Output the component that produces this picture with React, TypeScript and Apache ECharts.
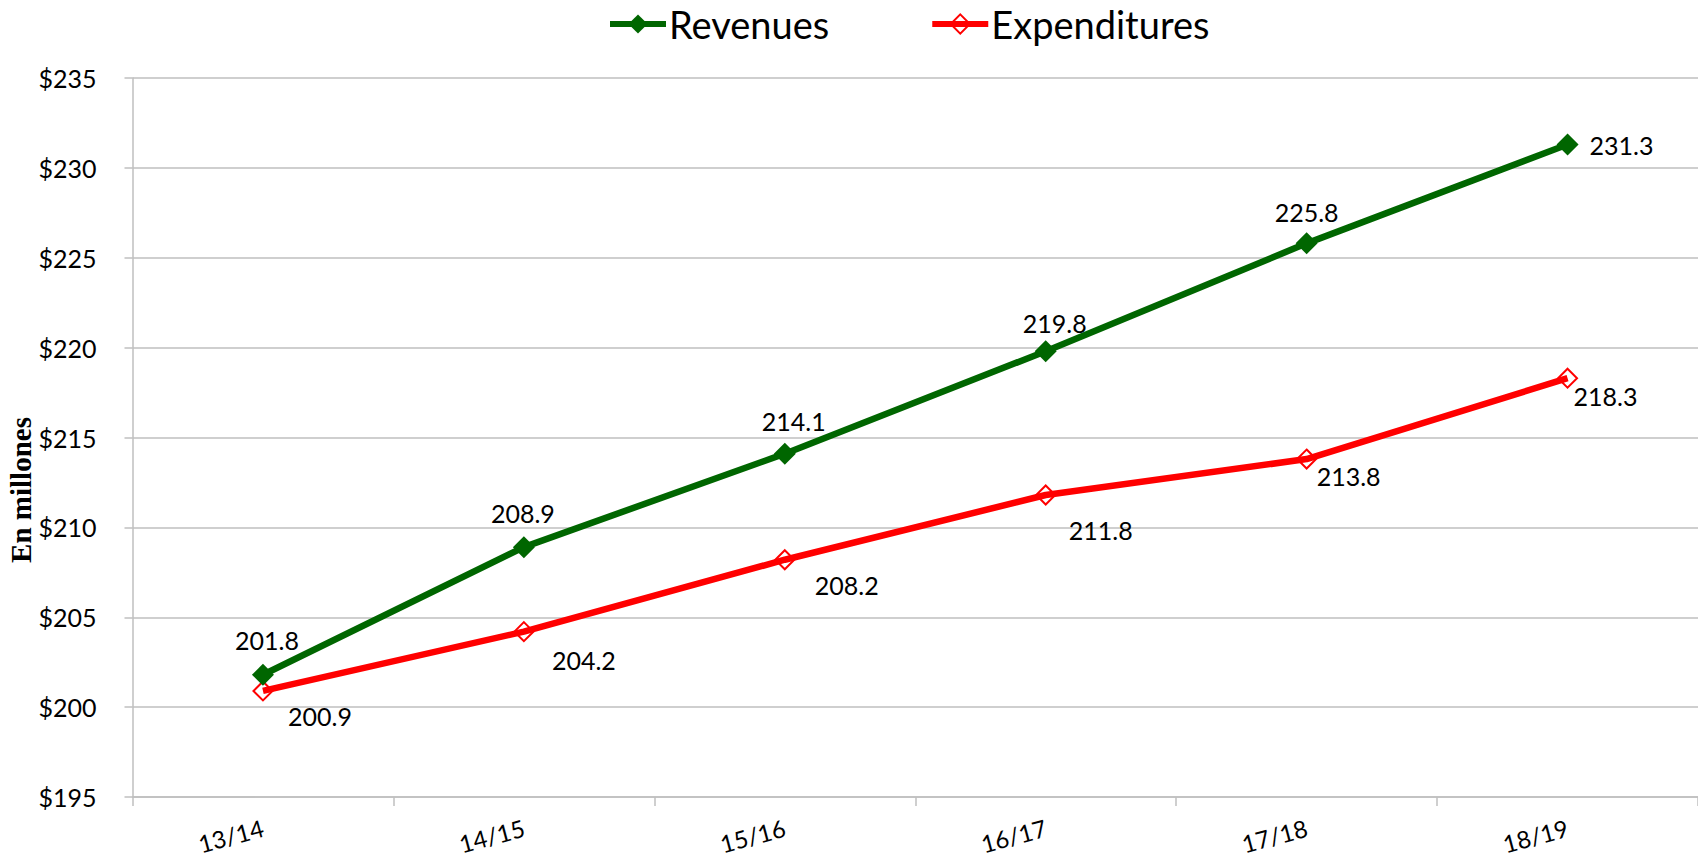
import React, { useEffect, useRef } from "react";
import * as echarts from "echarts";

const categories = ["13/14", "14/15", "15/16", "16/17", "17/18", "18/19"];
const revenues = [201.8, 208.9, 214.1, 219.8, 225.8, 231.3];
const expenditures = [200.9, 204.2, 208.2, 211.8, 213.8, 218.3];
const yMin = 195;
const yMax = 235;
const yStep = 5;

// label offsets (style only) relative to each point
const revLabelOffsets = [[4, -35], [-1, -34], [9, -33], [9, -28], [0, -31], [54, 0]];
const expLabelOffsets = [[57, 25], [60, 28], [62, 25], [55, 35], [42, 17], [38, 18]];

const GREEN = "#006600";
const RED = "#FF0000";
const GRID = "#BFBFBF";
const FONT = "Lato";

export default function App() {
  const ref = useRef<HTMLDivElement>(null);
  useEffect(() => {
    document.body.style.margin = "0";
    const chart = echarts.init(ref.current!, null, { renderer: "svg" });
    const labelStyle = { fontFamily: FONT, fontSize: 25, color: "#000" };
    chart.setOption({
      animation: false,
      backgroundColor: "#fff",
      legend: {
        left: 602,
        top: 0,
        itemWidth: 56,
        itemHeight: 24,
        itemGap: 100,
        lineStyle: { width: 6 },
        textStyle: { fontFamily: FONT, fontSize: 38, color: "#000", padding: [0, 0, 0, -2] },
        data: ["Revenues", "Expenditures"],
      },
      grid: { left: 132.5, top: 78, width: 1576, height: 719 },
      xAxis: {
        type: "category",
        data: categories,
        boundaryGap: true,
        axisLine: { show: true, lineStyle: { color: GRID, width: 1.5 } },
        axisTick: { show: true, interval: 0, length: 9, lineStyle: { color: GRID, width: 1.5 } },
        axisLabel: {
          rotate: 15,
          margin: 30,
          interval: 0,
          fontFamily: FONT,
          fontSize: 24,
          color: "#000",
        },
      },
      yAxis: {
        type: "value",
        min: yMin,
        max: yMax,
        interval: yStep,
        axisLine: { show: true, lineStyle: { color: GRID, width: 1.5 } },
        axisTick: { show: true, length: 8, lineStyle: { color: GRID, width: 1.5 } },
        splitLine: { show: true, lineStyle: { color: GRID, width: 1.5 } },
        axisLabel: {
          margin: 36,
          fontFamily: FONT,
          fontSize: 25,
          color: "#000",
          formatter: (v: number) => "$" + v,
        },
      },
      graphic: [
        {
          type: "text",
          x: 21,
          y: 490,
          rotation: Math.PI / 2,
          style: {
            text: "En millones",
            fontFamily: "Liberation Serif",
            fontWeight: "bold",
            fontSize: 29,
            fill: "#000",
            align: "center",
            verticalAlign: "middle",
          },
        },
      ],
      series: [
        {
          name: "Revenues",
          type: "line",
          data: revenues.map((v, i) => ({
            value: v,
            label: { offset: revLabelOffsets[i] },
          })),
          symbol: "diamond",
          symbolSize: 22,
          lineStyle: { color: GREEN, width: 6.5 },
          itemStyle: { color: GREEN, borderWidth: 0 },
          label: {
            show: true,
            position: "inside",
            ...labelStyle,
            formatter: (p: any) => p.value.toFixed(1),
          },
          z: 3,
        },
        {
          name: "Expenditures",
          type: "line",
          data: expenditures.map((v, i) => ({
            value: v,
            label: { offset: expLabelOffsets[i] },
          })),
          symbol: "diamond",
          symbolSize: 19,
          lineStyle: { color: RED, width: 6.5 },
          itemStyle: { color: "rgba(255,255,255,0)", borderColor: RED, borderWidth: 2 },
          label: {
            show: true,
            position: "inside",
            ...labelStyle,
            formatter: (p: any) => p.value.toFixed(1),
          },
          z: 2,
        },
      ],
    });
    return () => chart.dispose();
  }, []);
  return <div ref={ref} style={{ width: 1698, height: 860 }} />;
}
